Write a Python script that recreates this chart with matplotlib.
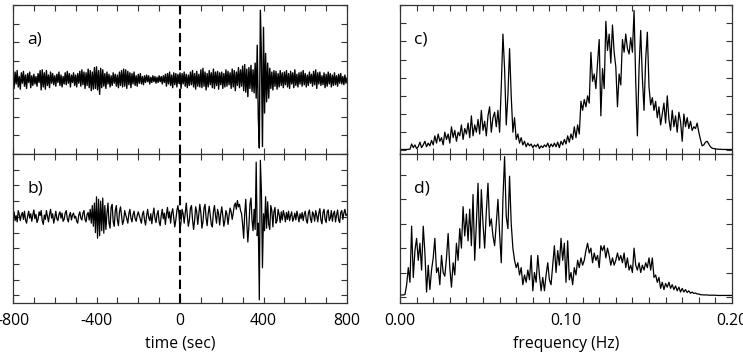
import numpy as np
import matplotlib.pyplot as plt
from matplotlib.ticker import MultipleLocator, FixedLocator

plt.rcParams['font.family'] = ['Open Sans', 'DejaVu Sans']

# time axis (sec), 5 s sampling
t = np.arange(-800, 801, 5)

# a) seismogram, one row per 100 s
trace_a = [
    0.05, -0.12, 0.10, -0.06, 0.12, -0.10, 0.04, -0.13, 0.09, -0.05, 0.11, -0.09, 0.06, -0.12, 0.08, -0.04, 0.10, -0.11, 0.05, -0.08,
    0.07, -0.06, 0.04, -0.09, 0.08, -0.04, 0.12, -0.14, 0.13, -0.10, 0.09, -0.13, 0.12, -0.08, 0.06, -0.11, 0.10, -0.05, 0.08, -0.07,
    0.05, -0.09, 0.07, -0.04, 0.10, -0.08, 0.06, -0.10, 0.04, -0.06, 0.09, -0.07, 0.11, -0.05, 0.08, -0.10, 0.06, -0.04, 0.09, -0.08,
    0.06, -0.10, 0.08, -0.05, 0.11, -0.09, 0.13, -0.07, 0.10, -0.12, 0.09, -0.08, 0.14, -0.11, 0.12, -0.15, 0.10, -0.13, 0.16, -0.12,
    0.17, -0.14, 0.12, -0.20, 0.15, -0.11, 0.13, -0.09, 0.08, -0.12, 0.10, -0.06, 0.07, -0.10, 0.05, -0.08, 0.09, -0.05, 0.07, -0.09,
    0.06, -0.11, 0.10, -0.08, 0.12, -0.10, 0.14, -0.09, 0.13, -0.12, 0.11, -0.07, 0.09, -0.11, 0.08, -0.06, 0.10, -0.08, 0.05, -0.09,
    0.07, -0.05, 0.08, -0.06, 0.04, -0.07, 0.05, -0.04, 0.06, -0.03, 0.05, -0.06, 0.03, -0.04, 0.05, -0.03, 0.04, -0.05, 0.03, -0.04,
    0.05, -0.03, 0.04, -0.06, 0.05, -0.04, 0.07, -0.09, 0.08, -0.06, 0.10, -0.08, 0.06, -0.11, 0.09, -0.07, 0.08, -0.10, 0.07, -0.05,
    0.09, -0.12, 0.08, -0.06, 0.10, -0.09, 0.07, -0.11, 0.06, -0.08, 0.10, -0.07, 0.12, -0.10, 0.08, -0.13, 0.11, -0.09, 0.07, -0.10,
    0.13, -0.11, 0.15, -0.09, 0.10, -0.14, 0.08, -0.10, 0.12, -0.07, 0.09, -0.11, 0.14, -0.12, 0.10, -0.08, 0.11, -0.13, 0.09, -0.07,
    0.10, -0.12, 0.08, -0.10, 0.13, -0.09, 0.11, -0.07, 0.09, -0.12, 0.14, -0.10, 0.12, -0.15, 0.10, -0.08, 0.16, -0.11, 0.13, -0.09,
    0.18, -0.15, 0.20, -0.17, 0.14, -0.23, 0.16, -0.12, 0.19, -0.16, 0.13, -0.18, 0.22, -0.25, 0.46, -0.50, -0.92, 0.93, 0.30, -0.90,
    0.70, -0.45, 0.35, -0.30, 0.22, -0.25, 0.15, -0.12, 0.10, -0.14, 0.12, -0.09, 0.11, -0.13, 0.08, -0.10, 0.12, -0.08, 0.09, -0.11,
    0.10, -0.07, 0.12, -0.10, 0.08, -0.12, 0.11, -0.06, 0.09, -0.11, 0.13, -0.08, 0.07, -0.10, 0.09, -0.06, 0.10, -0.09, 0.12, -0.07,
    0.08, -0.10, 0.06, -0.08, 0.10, -0.05, 0.07, -0.09, 0.11, -0.07, 0.13, -0.12, 0.09, -0.06, 0.10, -0.08, 0.05, -0.07, 0.09, -0.11,
    0.07, -0.09, 0.10, -0.06, 0.08, -0.10, 0.06, -0.08, 0.09, -0.07, 0.05, -0.09, 0.07, -0.05, 0.08, -0.06, 0.04, -0.07, 0.06, -0.05,
    0.02,
]

# b) seismogram
trace_b = [
    0.05, 0.08, -0.06, 0.02, -0.08, 0.10, 0.04, -0.06, 0.03, 0.07, -0.04, 0.09, -0.05, -0.10, 0.01, 0.09, -0.02, 0.05, -0.07, 0.03,
    0.11, -0.03, 0.04, -0.09, -0.04, 0.08, 0.02, 0.10, -0.06, -0.12, 0.03, -0.04, 0.10, 0.01, -0.08, 0.04, 0.12, -0.02, 0.05, -0.10,
    -0.02, 0.09, -0.03, -0.06, 0.04, 0.08, -0.02, 0.06, -0.07, -0.04, 0.06, 0.10, -0.03, -0.08, 0.02, 0.07, -0.05, 0.03, 0.06, -0.02,
    0.01, -0.07, -0.10, 0.03, 0.08, -0.02, -0.05, 0.06, 0.10, -0.04, -0.08, 0.04, 0.07, -0.05, 0.12, -0.10, 0.18, -0.15, 0.22, -0.25,
    0.32, -0.34, 0.28, -0.30, 0.25, -0.22, 0.30, -0.26, 0.18, -0.20, 0.05, 0.22, -0.10, -0.18, 0.15, 0.20, -0.08, -0.15, 0.10, 0.18,
    -0.05, -0.14, 0.08, 0.16, 0.02, -0.12, -0.06, 0.10, 0.03, -0.03, -0.10, 0.05, 0.12, -0.02, -0.08, 0.04, 0.09, -0.03, -0.07, 0.02,
    0.08, 0.02, -0.04, -0.10, 0.04, 0.09, -0.05, -0.13, 0.02, 0.12, -0.01, -0.06, 0.05, -0.11, 0.03, 0.14, -0.02, -0.09, 0.04, 0.10,
    -0.08, -0.14, 0.02, 0.12, -0.03, 0.06, -0.12, 0.04, 0.15, -0.02, 0.08, -0.10, 0.06, 0.13, -0.02, -0.16, -0.05, 0.10, 0.18, 0.05,
    -0.20, -0.08, 0.12, 0.05, -0.10, 0.06, 0.22, 0.02, -0.15, -0.05, 0.14, 0.18, -0.04, -0.20, -0.06, 0.16, 0.08, -0.12, 0.04, 0.20,
    0.06, -0.18, -0.08, 0.14, 0.20, -0.02, -0.14, 0.05, 0.17, 0.03, -0.12, -0.16, 0.08, 0.18, 0.02, -0.10, 0.12, 0.05, -0.13, 0.04,
    0.16, 0.02, -0.15, -0.06, 0.10, 0.04, -0.12, 0.02, 0.14, 0.08, -0.04, 0.06, 0.18, 0.22, 0.12, 0.26, 0.16, 0.20, 0.10, 0.05,
    -0.12, -0.34, 0.05, 0.28, -0.10, -0.40, -0.15, 0.20, 0.30, -0.05, -0.22, 0.12, -0.20, 0.87, -0.30, -0.10, -1.32, 0.90, 0.40, -0.81,
    0.05, -0.22, 0.32, -0.18, 0.24, -0.12, -0.20, 0.18, 0.10, -0.16, 0.08, 0.15, -0.10, -0.06, 0.12, 0.04, -0.09, 0.08, -0.05, 0.10,
    0.03, -0.08, 0.07, -0.04, 0.09, -0.06, 0.02, 0.08, -0.07, -0.02, 0.06, -0.05, 0.09, 0.01, -0.08, 0.05, -0.03, 0.07, -0.06, 0.04,
    0.09, -0.05, -0.10, 0.06, 0.11, -0.03, -0.09, 0.08, 0.04, -0.07, 0.10, 0.02, -0.08, 0.06, 0.13, -0.05, -0.11, 0.07, 0.12, -0.04,
    -0.09, 0.08, 0.11, -0.06, -0.02, 0.10, -0.07, 0.05, 0.09, -0.08, 0.03, 0.11, -0.05, -0.09, 0.07, 0.10, -0.04, 0.06, 0.12, 0.02,
    0.04,
]

# frequency axis (Hz), 0.001 Hz steps
freq = np.arange(201) * 0.001

# c) spectrum of a
spec_c = [
    0.05, 0.05, 0.05, 0.05, 0.05, 0.06, 0.06, 0.35, 0.15, 0.30, 0.10, 0.20, 0.45, 0.15, 0.30, 0.50, 0.20, 0.40, 0.25, 0.55,
    0.30, 0.80, 0.40, 0.90, 0.50, 0.70, 0.30, 1.00, 0.60, 0.90, 0.40, 1.30, 0.70, 1.10, 0.50, 1.00, 0.80, 1.40, 0.60, 1.20,
    0.90, 1.50, 0.70, 1.90, 0.80, 1.40, 1.00, 1.70, 0.90, 2.20, 1.10, 1.60, 0.80, 1.90, 2.40, 1.00, 1.80, 2.10, 1.30, 2.20,
    1.00, 3.50, 6.40, 4.50, 1.40, 3.00, 5.60, 3.00, 1.00, 1.80, 0.60, 0.90, 0.40, 0.70, 0.30, 0.50, 0.20, 0.40, 0.25, 0.35,
    0.15, 0.30, 0.20, 0.35, 0.10, 0.25, 0.15, 0.30, 0.20, 0.40, 0.15, 0.35, 0.20, 0.40, 0.20, 0.45, 0.15, 0.50, 0.30, 0.60,
    0.35, 0.80, 0.45, 0.90, 0.60, 1.30, 0.70, 1.40, 0.90, 2.70, 2.20, 2.80, 2.40, 3.00, 2.60, 5.40, 3.80, 4.20, 3.40, 4.80,
    6.10, 1.90, 4.50, 3.40, 7.10, 5.50, 6.40, 4.80, 6.90, 5.40, 4.60, 2.40, 4.20, 3.60, 6.10, 5.40, 6.40, 5.60, 5.30, 6.20,
    5.40, 7.70, 3.80, 0.80, 4.50, 6.60, 4.00, 2.20, 5.00, 6.50, 3.50, 2.50, 2.90, 2.20, 2.70, 1.80, 2.40, 1.40, 2.00, 2.60,
    1.50, 3.00, 1.70, 1.10, 2.20, 1.30, 1.90, 1.00, 2.10, 1.60, 0.50, 2.00, 1.30, 1.80, 1.20, 1.60, 1.10, 1.30, 1.20, 1.50,
    1.00, 0.60, 0.25, 0.30, 0.45, 0.50, 0.35, 0.20, 0.12, 0.10, 0.08, 0.07, 0.06, 0.06, 0.05, 0.05, 0.05, 0.05, 0.05, 0.05,
    0.05,
]

# d) spectrum of b
spec_d = [
    0.08, 0.08, 0.08, 0.10, 0.50, 1.20, 0.60, 2.90, 0.80, 1.90, 2.40, 1.50, 2.20, 1.10, 2.90, 1.80, 0.20, 1.30, 0.30, 1.10,
    1.60, 2.40, 1.00, 1.20, 0.50, 1.70, 1.00, 0.85, 1.60, 2.60, 1.20, 0.40, 1.40, 0.90, 2.20, 1.50, 2.80, 2.00, 3.70, 2.50,
    3.40, 2.30, 3.60, 2.10, 4.20, 1.50, 3.00, 4.66, 2.00, 4.40, 3.00, 2.00, 3.50, 4.66, 2.90, 3.20, 2.50, 2.10, 3.00, 4.00,
    2.60, 1.40, 4.00, 5.75, 3.30, 2.80, 4.95, 3.00, 2.00, 1.50, 1.20, 1.40, 0.90, 1.20, 0.50, 0.90, 0.60, 1.10, 0.70, 1.70,
    0.25, 1.00, 0.60, 1.70, 0.90, 0.25, 0.80, 0.25, 0.90, 1.40, 0.70, 0.50, 1.30, 2.10, 1.00, 1.90, 1.30, 2.40, 1.50, 2.20,
    0.60, 2.30, 0.70, 1.00, 0.50, 1.20, 0.90, 1.50, 1.20, 1.60, 1.30, 1.50, 1.90, 2.20, 1.80, 2.00, 1.40, 1.80, 1.50, 1.70,
    1.20, 2.10, 1.90, 2.10, 1.60, 2.00, 1.70, 1.30, 1.60, 1.30, 1.50, 1.80, 1.50, 1.70, 1.40, 1.80, 1.20, 1.60, 1.10, 1.30,
    1.00, 2.00, 1.30, 1.10, 1.40, 1.00, 1.30, 1.10, 1.40, 1.20, 1.60, 1.10, 1.60, 0.80, 0.90, 0.60, 0.80, 0.35, 0.60, 0.30,
    0.55, 0.40, 0.60, 0.35, 0.50, 0.30, 0.45, 0.25, 0.40, 0.20, 0.35, 0.20, 0.30, 0.18, 0.25, 0.15, 0.20, 0.14, 0.16, 0.12,
    0.12, 0.09, 0.09, 0.08, 0.08, 0.08, 0.07, 0.07, 0.07, 0.07, 0.07, 0.06, 0.06, 0.06, 0.06, 0.06, 0.06, 0.06, 0.06, 0.06,
    0.06,
]

fig = plt.figure(figsize=(7.43, 3.55), dpi=100)
W, H = 743, 355


def add_ax(x0, y_top, w, h):
    return fig.add_axes([x0 / W, (H - y_top - h) / H, w / W, h / H])


ax_a = add_ax(13, 5, 334, 149)
ax_b = add_ax(13, 154, 334, 149)
ax_c = add_ax(400, 5, 332, 149)
ax_d = add_ax(400, 154, 332, 149)

ax_a.plot(t, trace_a, color='black', lw=1.0)
ax_b.plot(t, trace_b, color='black', lw=0.9)
ax_c.plot(freq, spec_c, color='black', lw=0.9)
ax_d.plot(freq, spec_d, color='black', lw=0.9)

for ax in (ax_a, ax_b):
    ax.set_xlim(-800, 800)
    ax.axvline(0, color='black', lw=1.5, dashes=(4.5, 2.2))
    ax.xaxis.set_major_locator(FixedLocator([-800, -400, 0, 400, 800]))
    ax.xaxis.set_minor_locator(MultipleLocator(100))
    ax.yaxis.set_major_locator(MultipleLocator(0.25))
ax_a.set_ylim(-1, 1)
ax_b.set_ylim(-1.37, 1.0)

for ax in (ax_c, ax_d):
    ax.set_xlim(0, 0.2)
    ax.xaxis.set_major_locator(FixedLocator([0, 0.1, 0.2]))
    ax.xaxis.set_minor_locator(MultipleLocator(0.01))
    ax.yaxis.set_major_locator(MultipleLocator(1))
ax_c.set_ylim(-0.2, 8.0)
ax_d.set_ylim(-0.25, 5.86)

for ax in (ax_a, ax_b, ax_c, ax_d):
    ax.tick_params(which='both', direction='in', top=True, right=True,
                   length=4, width=0.8, color='#333333', labelleft=False,
                   labelsize=11.3, pad=7)
    for s in ax.spines.values():
        s.set_color('#333333')
        s.set_linewidth(0.9)

ax_a.tick_params(labelbottom=False)
ax_c.tick_params(labelbottom=False)
ax_b.set_xticklabels(['-800', '-400', '0', '400', '800'])
ax_d.set_xticklabels(['0.00', '0.10', '0.20'])
ax_b.set_xlabel('time (sec)', fontsize=11.3, labelpad=5)
ax_d.set_xlabel('frequency (Hz)', fontsize=11.3, labelpad=5)

for ax, lab in zip((ax_a, ax_b, ax_c, ax_d), ('a)', 'b)', 'c)', 'd)')):
    ax.text(0.042, 0.74, lab, transform=ax.transAxes, fontsize=12.5)

fig.savefig('out.png', dpi=100)
